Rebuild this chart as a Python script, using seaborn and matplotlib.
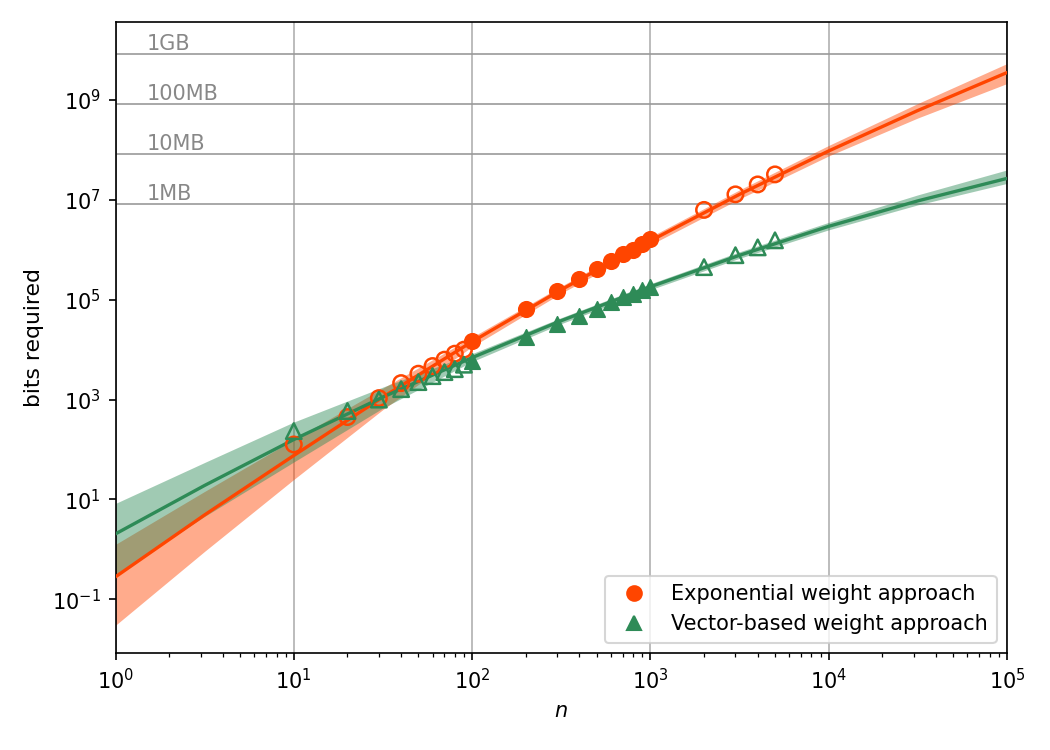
import matplotlib
matplotlib.use("Agg")
import matplotlib.pyplot as plt
from matplotlib.lines import Line2D
from matplotlib.ticker import NullLocator
import seaborn as sns
import pandas as pd
import numpy as np

# measured points (filled = used for the fit, open = held out)
n_fit_pts = [100, 200, 300, 400, 500, 600, 700, 800, 900, 1000]
exp_fit_pts = [1.48e4, 6.5e4, 1.48e5, 2.6e5, 4.1e5, 6.0e5, 8.1e5, 9.8e5, 1.32e6, 1.62e6]
vec_fit_pts = [5.9e3, 1.78e4, 3.3e4, 4.8e4, 6.5e4, 8.9e4, 1.12e5, 1.32e5, 1.58e5, 1.78e5]

n_test_pts = [10, 20, 30, 40, 50, 60, 70, 80, 90, 2000, 3000, 4000, 5000]
exp_test_pts = [126, 447, 1070, 2140, 3300, 4700, 6300, 8300, 1.0e4, 6.3e6, 1.29e7, 2.04e7, 3.24e7]
vec_test_pts = [234, 590, 1000, 1620, 2240, 2950, 3550, 4070, 5000, 4.5e5, 7.8e5, 1.12e6, 1.55e6]

# fitted curves and confidence bands, read every half decade (log10 of bits)
n_curve = [1, 3.16, 10, 31.6, 100, 316, 1e3, 3.16e3, 1e4, 3.16e4, 1e5]
exp_mid_log = [-0.55, 0.69, 1.88, 3.05, 4.16, 5.20, 6.18, 7.11, 7.98, 8.79, 9.55]
exp_hi_log = [0.10, 1.16, 2.20, 3.23, 4.25, 5.27, 6.26, 7.20, 8.09, 8.93, 9.73]
exp_lo_log = [-1.52, -0.04, 1.40, 2.80, 4.06, 5.13, 6.10, 7.02, 7.88, 8.64, 9.33]
vec_mid_log = [0.31, 1.28, 2.20, 3.05, 3.84, 4.58, 5.26, 5.89, 6.47, 6.98, 7.43]
vec_hi_log = [0.92, 1.74, 2.55, 3.25, 3.92, 4.64, 5.32, 5.96, 6.55, 7.10, 7.60]
vec_lo_log = [-0.50, 0.66, 1.75, 2.83, 3.76, 4.52, 5.20, 5.83, 6.40, 6.90, 7.33]

# memory reference lines (bits)
mem_labels = ["1MB", "10MB", "100MB", "1GB"]
mem_bits = [8 * 1024**2, 80 * 1024**2, 800 * 1024**2, 8000 * 1024**2]

orange = "#ff4500"
green = "#2e8b57"

fig, ax = plt.subplots(figsize=(7, 5), dpi=150)
fig.subplots_adjust(left=0.110, right=0.959, top=0.971, bottom=0.129)

ax.set_xscale("log")
ax.set_yscale("log")

for val, lab in zip(mem_bits, mem_labels):
    ax.axhline(val, color="#999999", lw=0.8, zorder=1)
    ax.text(1.5, val, lab, color="#888888", fontsize=10, va="bottom", ha="left", zorder=1)

ax.fill_between(n_curve, np.power(10, exp_lo_log), np.power(10, exp_hi_log),
                color=orange, alpha=0.45, lw=0, zorder=2)
ax.fill_between(n_curve, np.power(10, vec_lo_log), np.power(10, vec_hi_log),
                color=green, alpha=0.45, lw=0, zorder=2)

curves = pd.DataFrame({
    "n": n_curve * 2,
    "bits": np.power(10.0, exp_mid_log + vec_mid_log),
    "approach": ["exp"] * len(n_curve) + ["vec"] * len(n_curve),
})
sns.lineplot(data=curves, x="n", y="bits", hue="approach", palette=[orange, green],
             lw=1.6, legend=False, ax=ax, zorder=3)

sns.scatterplot(x=n_fit_pts, y=exp_fit_pts, marker="o", s=55, color=orange,
                edgecolor=orange, linewidth=0.8, ax=ax, zorder=4)
sns.scatterplot(x=n_fit_pts, y=vec_fit_pts, marker="^", s=55, color=green,
                edgecolor=green, linewidth=0.8, ax=ax, zorder=4)
sns.scatterplot(x=n_test_pts, y=exp_test_pts, marker="o", s=55, facecolor="none",
                edgecolor=orange, linewidth=1.2, ax=ax, zorder=4)
sns.scatterplot(x=n_test_pts, y=vec_test_pts, marker="^", s=55, facecolor="none",
                edgecolor=green, linewidth=1.2, ax=ax, zorder=4)

ax.set_xlim(1, 1e5)
ax.set_ylim(8.3e-3, 3.7e10)
ax.set_yticks([1e-1, 1e1, 1e3, 1e5, 1e7, 1e9])
ax.yaxis.set_minor_locator(NullLocator())
ax.xaxis.grid(True, which="major", color="#b0b0b0", lw=0.8)
ax.set_axisbelow(True)
ax.tick_params(labelsize=10)

ax.set_xlabel("$n$", fontsize=10)
ax.set_ylabel("bits required", fontsize=10.5, family="Liberation Sans Narrow")

handles = [
    Line2D([], [], ls="", marker="o", color=orange, markersize=7),
    Line2D([], [], ls="", marker="^", color=green, markersize=7),
]
ax.legend(handles, ["Exponential weight approach", "Vector-based weight approach"],
          loc="lower right", fontsize=10)

fig.savefig("out.png", dpi=150)
